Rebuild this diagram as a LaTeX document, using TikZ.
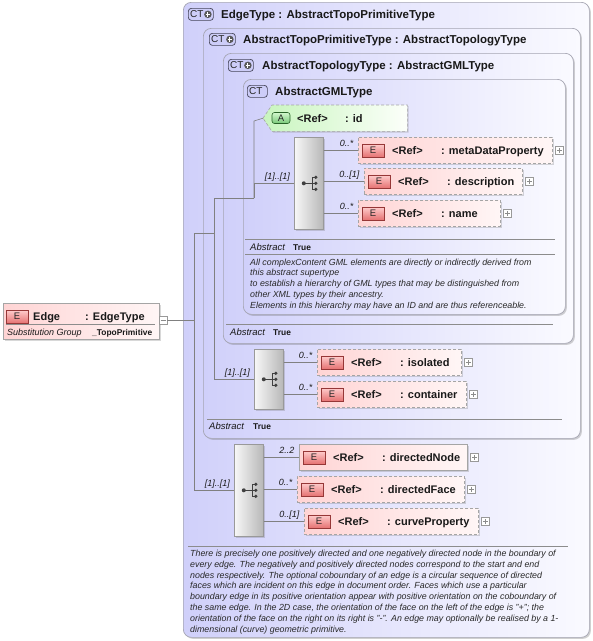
\documentclass[tikz,border=0pt]{standalone}
\usepackage{fontspec}
\setmainfont{Liberation Sans}
\usetikzlibrary{shadows}
\definecolor{lav}{RGB}{208,208,250}
\definecolor{lavr}{RGB}{250,250,255}
\definecolor{framec}{RGB}{165,165,178}
\definecolor{connc}{RGB}{128,128,128}
\definecolor{epinkl}{RGB}{255,212,212}
\definecolor{epinkr}{RGB}{255,246,246}
\definecolor{eborder}{RGB}{165,165,165}
\definecolor{ebt}{RGB}{255,205,205}
\definecolor{ebb}{RGB}{230,115,115}
\definecolor{ebd}{RGB}{150,55,55}
\definecolor{agl}{RGB}{200,245,190}
\definecolor{agr}{RGB}{252,255,250}
\definecolor{abt}{RGB}{210,248,205}
\definecolor{abb}{RGB}{120,200,120}
\definecolor{abd}{RGB}{40,100,40}
\definecolor{ctb}{RGB}{205,205,248}
\definecolor{ctd}{RGB}{70,70,90}
\definecolor{txt}{RGB}{25,25,25}
\definecolor{desctxt}{RGB}{40,40,40}
\tikzset{
  ctframe/.style={draw=framec, line width=0.7pt, rounded corners=8pt, left color=lav, right color=lavr, anchor=north west, inner sep=0pt, drop shadow={shadow xshift=1.5pt, shadow yshift=-1.5pt, opacity=0.3, fill=black!60}},
  ebox/.style={draw=eborder, line width=0.6pt, dash pattern=on 3pt off 2pt, left color=epinkl, right color=epinkr, anchor=north west, inner sep=0pt, minimum height=26, drop shadow={shadow xshift=1.2pt, shadow yshift=-1.2pt, opacity=0.25, fill=black!60}},
  edash/.style={dash pattern=on 3pt off 2pt},
  ebadge/.style={draw=ebd, line width=0.6pt, top color=ebt, bottom color=ebb, minimum width=22, minimum height=13, inner sep=0pt, font=\fontsize{9.5}{9.5}\selectfont, text=black!85},
  abadge/.style={draw=abd, line width=0.6pt, rounded corners=2.5pt, top color=abt, bottom color=abb, minimum width=18, minimum height=11, inner sep=0pt, font=\fontsize{9.5}{9.5}\selectfont, text=black!85},
  attrshape/.style={draw=eborder, line width=0.6pt, dash pattern=on 3pt off 2pt, left color=agl, right color=agr, drop shadow={shadow xshift=1.2pt, shadow yshift=-1.2pt, opacity=0.25, fill=black!60}},
  etext/.style={anchor=base west, inner sep=0pt, font=\fontsize{11}{13}\selectfont\bfseries, text=txt},
  hdr/.style={anchor=base west, inner sep=0pt, font=\fontsize{11.5}{13}\selectfont\bfseries, text=txt},
  lbl/.style={anchor=base east, inner sep=0pt, font=\fontsize{9}{10}\selectfont\itshape, text=txt},
  desc/.style={anchor=base west, inner sep=0pt, font=\fontsize{8.85}{10}\selectfont\itshape, text=desctxt},
  abst/.style={anchor=base west, inner sep=0pt, font=\fontsize{9.5}{10}\selectfont\itshape, text=txt},
  truev/.style={anchor=base west, inner sep=0pt, font=\fontsize{8.4}{10}\selectfont\bfseries, text=txt},
  sepline/.style={draw=black!45, line width=0.6pt},
  conn/.style={draw=connc, line width=0.6pt},
  plusbox/.style={draw=black!40, fill=white, minimum size=8, inner sep=0pt, line width=0.5pt},
  plussign/.style={draw=black!45, line width=0.6pt},
  seqbox/.style={draw=black!40, line width=0.6pt, left color=black!3, right color=black!28, anchor=north west, inner sep=0pt, minimum width=29, drop shadow={shadow xshift=1.2pt, shadow yshift=-1.2pt, opacity=0.25, fill=black!60}},
  iconline/.style={draw=black!75, line width=0.8pt},
  icondot/.style={fill=black!75},
  ctbadge/.style={draw=ctd, line width=0.7pt, rounded corners=3pt, fill=ctb, anchor=north west, inner sep=0pt, minimum height=12},
  cttext/.style={inner sep=0pt, font=\fontsize{10}{10}\selectfont, text=black!85},
  ctcirc/.style={circle, fill=black!65, minimum size=7.5, inner sep=0pt},
}
\newcommand{\mkctbadge}[5]{% name, x, y, width, plus?
  \node[ctbadge, minimum width=#4] (#1) at (#2,#3) {};
  \node[cttext, anchor=west] (#1t) at ([xshift=2pt]#1.west) {CT};
  \ifnum#5=1
    \node[ctcirc] (#1p) at ([xshift=-5.8pt]#1.east) {};
    \draw[white, line width=1.1pt] ([xshift=-2.4pt]#1p.center) -- ([xshift=2.4pt]#1p.center) ([yshift=-2.4pt]#1p.center) -- ([yshift=2.4pt]#1p.center);
  \fi
}
\newcommand{\mkplus}[2]{% name, base node
  \node[plusbox] (#1) at ([xshift=7pt]#2.east) {};
  \draw[plussign] ([xshift=-2.5pt]#1.center) -- ([xshift=2.5pt]#1.center) ([yshift=-2.5pt]#1.center) -- ([yshift=2.5pt]#1.center);
}
\newcommand{\mkelem}[7]{% name, x, y, width, style, label, cardinality
  \node[ebox, #5, minimum width=#4] (#1) at (#2,#3) {};
  \node[ebadge] (#1b) at ([xshift=15pt]#1.west) {E};
  \node[etext] (#1r) at ([xshift=34pt, yshift=-4pt]#1.west) {<Ref>};
  \node[etext] (#1n) at ([xshift=83pt, yshift=-4pt]#1.west) {: #6};
  \mkplus{#1p}{#1}
  \node[lbl] (#1c) at ([xshift=-4.5pt, yshift=4pt]#1.west) {#7};
}
\newcommand{\mkseq}[4]{% name, x, y, height
  \node[seqbox, minimum height=#4] (#1) at (#2,#3) {};
  \draw[iconline] ([xshift=-5pt]#1.center) -- ([xshift=3.5pt]#1.center);
  \draw[iconline] ([xshift=3.5pt,yshift=6pt]#1.center) -- ([xshift=3.5pt,yshift=-6pt]#1.center);
  \fill[icondot] ([xshift=-5pt]#1.center) circle (2pt);
  \foreach \dy in {6,0,-6} {
    \draw[iconline] ([xshift=3.5pt,yshift=\dy pt]#1.center) -- ([xshift=7pt,yshift=\dy pt]#1.center);
    \fill[icondot] ([xshift=7pt,yshift=\dy pt]#1.center) circle (1.8pt);
  }
  \node[lbl] (#1c) at ([xshift=-4pt, yshift=3.5pt]#1.west) {[1]..[1]};
}
\begin{document}
\begin{tikzpicture}[x=1pt, y=-1pt]
\fill[white] (0,0) rectangle (593,641);
\useasboundingbox (0,0) rectangle (593,641);

% frames
\node[ctframe, minimum width=406, minimum height=635] (fEdge) at (183,2) {};
\node[ctframe, minimum width=377, minimum height=410] (fTopoPrim) at (203,28) {};
\node[ctframe, minimum width=350, minimum height=290] (fTopology) at (223,53) {};
\node[ctframe, minimum width=322, minimum height=235] (fGML) at (243,79) {};

% headers
\mkctbadge{b1}{188}{8}{25}{1}
\node[hdr] (h1) at (221,18) {EdgeType : AbstractTopoPrimitiveType};
\mkctbadge{b2}{209}{33}{26}{1}
\node[hdr] (h2) at (243,43.5) {AbstractTopoPrimitiveType : AbstractTopologyType};
\mkctbadge{b3}{228}{59}{25}{1}
\node[hdr] (h3) at (262,69.5) {AbstractTopologyType : AbstractGMLType};
\mkctbadge{b4}{247}{85}{20}{0}
\node[hdr] (h4) at (275,95.5) {AbstractGMLType};

% abstract rows and descriptions
\draw[sepline] (245,239) -- (555,239);
\node[abst] (ab4) at (250,250.5) {Abstract};
\node[truev] (tr4) at (293,250.5) {True};
\draw[sepline] (245,254) -- (555,254);
\foreach \t [count=\i] in {{All complexContent GML elements are directly or indirectly derived from},{this abstract supertype},{to establish a hierarchy of GML types that may be distinguished from},{other XML types by their ancestry.},{Elements in this hierarchy may have an ID and are thus referenceable.}}
  \node[desc] (gd\i) at (250,{265+(\i-1)*10.8}) {\t};

\draw[sepline] (226,324) -- (553,324);
\node[abst] (ab3) at (230,335.5) {Abstract};
\node[truev] (tr3) at (273,335.5) {True};

\draw[sepline] (207,419) -- (562,419);
\node[abst] (ab2) at (209,429.5) {Abstract};
\node[truev] (tr2) at (253,429.5) {True};

\draw[sepline] (188,546) -- (568,546);
\foreach \t [count=\i] in {{There is precisely one positively directed and one negatively directed node in the boundary of},{every edge. The negatively and positively directed nodes correspond to the start and end},{nodes respectively. The optional coboundary of an edge is a circular sequence of directed},{faces which are incident on this edge in document order. Faces which use a particular},{boundary edge in its positive orientation appear with positive orientation on the coboundary of},{the same edge. In the 2D case, the orientation of the face on the left of the edge is "+"; the},{orientation of the face on the right on its right is "-". An edge may optionally be realised by a 1-},{dimensional (curve) geometric primitive.}}
  \node[desc] (ed\i) at (190,{556.3+(\i-1)*10.85}) {\t};

% Edge element
\node[ebox, solid, minimum width=156, minimum height=36] (edge) at (3,303) {};
\node[ebadge] (edgeb) at (17,316.5) {E};
\node[etext] (edgen) at (33,320.5) {Edge};
\node[etext] (edget) at (85,320.5) {: EdgeType};
\draw[sepline] (6,324) -- (155,324);
\node[abst, font=\fontsize{9}{10}\selectfont\itshape] (edgesg) at (7,335.5) {Substitution Group};
\node[truev] (edgesv) at (92,335.5) {\_TopoPrimitive};
\node[plusbox] (em) at (163,320) {};
\draw[plussign] ([xshift=-2.5pt]em.center) -- ([xshift=2.5pt]em.center);

% attribute id
\node[anchor=north west, minimum width=144, minimum height=26, inner sep=0pt] (attr) at (263,105) {};
\draw[attrshape] (attr.west) -- ([xshift=9pt]attr.north west) -- (attr.north east) -- (attr.south east) -- ([xshift=9pt]attr.south west) -- cycle;
\node[abadge] (attrb) at (281,118) {A};
\node[etext] (attrr) at (297,122) {<Ref>};
\node[etext] (attrn) at (345,122) {: id};

% sequences
\mkseq{seqA}{294}{137}{92}
\mkseq{seqB}{254}{349}{60}
\mkseq{seqC}{234}{444}{92}

% elements
\mkelem{mdp}{358}{137}{194}{edash}{metaDataProperty}{0..*}
\mkelem{dsc}{364}{168}{158}{edash}{description}{0..[1]}
\mkelem{nam}{358}{200}{142}{edash}{name}{0..*}
\mkelem{iso}{317}{349}{144}{edash}{isolated}{0..*}
\mkelem{cnt}{317}{381}{149}{edash}{container}{0..*}
\mkelem{dnd}{299}{444}{168}{solid}{directedNode}{2..2}
\mkelem{dfc}{297}{476}{167}{edash}{directedFace}{0..*}
\mkelem{cpr}{304}{508}{174}{edash}{curveProperty}{0..[1]}

% connectors
\coordinate (t1) at (194,233);
\coordinate (t2) at (214,198);
\coordinate (t3) at (254,198);
\coordinate (t4) at (254,121);
\draw[conn] (em.east) -- (em.east -| t1);
\draw[conn] (t1) |- (seqC.west);
\draw[conn] (t1) -| (t2);
\draw[conn] (t2) |- (seqB.west);
\draw[conn] (t2) -- (t3);
\draw[conn] (t3) |- (seqA.west);
\draw[conn] (t3) -- (t4) -- (attr.west);
\draw[conn] (seqA.east |- mdp.west) -- (mdp.west);
\draw[conn] (seqA.east |- dsc.west) -- (dsc.west);
\draw[conn] (seqA.east |- nam.west) -- (nam.west);
\draw[conn] (seqB.east |- iso.west) -- (iso.west);
\draw[conn] (seqB.east |- cnt.west) -- (cnt.west);
\draw[conn] (seqC.east |- dnd.west) -- (dnd.west);
\draw[conn] (seqC.east |- dfc.west) -- (dfc.west);
\draw[conn] (seqC.east |- cpr.west) -- (cpr.west);
\end{tikzpicture}
\end{document}
